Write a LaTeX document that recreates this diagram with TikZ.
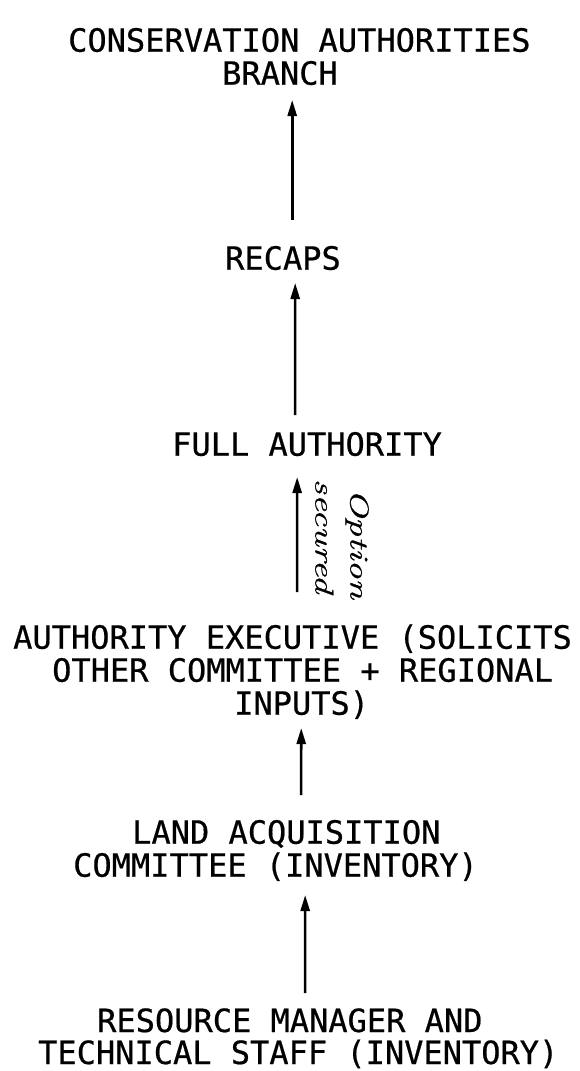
\documentclass[tikz,border=0pt]{standalone}
\usepackage{fontspec}
\usetikzlibrary{arrows.meta}
\newfontfamily\twfont{DejaVu Sans Mono}[FakeBold=0.6]
\newfontfamily\handfont{Latin Modern Roman}[FakeBold=0.8]
\tikzset{
  tw/.style={font=\twfont\fontsize{32}{34}\selectfont, inner sep=0pt, anchor=base west},
  hand/.style={font=\handfont\itshape\fontsize{26}{35}\selectfont, inner sep=0pt, align=left, rotate=-90},
  arr/.style={line width=2.6pt, -{Triangle[length=16pt,width=9pt]}}
}
\begin{document}
\begin{tikzpicture}[x=1pt,y=-1pt]
\useasboundingbox (0,0) rectangle (580,1071);
% texts
\node[tw] (cab1) at (68,51.7) {CONSERVATION AUTHORITIES};
\node[tw] (cab2) at (222,84.7) {BRANCH};
\node[tw] (recaps) at (225,269.7) {RECAPS};
\node[tw] (full) at (172,455.7) {FULL AUTHORITY};
\node[tw] (ae1) at (13,648.7) {AUTHORITY EXECUTIVE (SOLICITS};
\node[tw] (ae2) at (52,681.7) {OTHER COMMITTEE + REGIONAL};
\node[tw] (ae3) at (234,714.7) {INPUTS)};
\node[tw] (lac1) at (132,843.7) {LAND ACQUISITION};
\node[tw] (lac2) at (73,876.7) {COMMITTEE (INVENTORY)};
\node[tw] (rm1) at (97,1032) {RESOURCE MANAGER AND};
\node[tw] (rm2) at (38,1064) {TECHNICAL STAFF (INVENTORY)};
\node[hand] (opt) at (342,539) {\hspace*{10pt}\scalebox{1.45}[1]{Option}\\\scalebox{1.45}[1]{secured}};
% connectors
\draw[arr] ([shift={(9.2,-49.7)}]recaps.base) -- ([shift={(12.2,15.3)}]cab2.base);
\draw[arr] ([shift={(-11.9,-40.7)}]full.base) -- ([shift={(12.2,13.3)}]recaps.base);
\draw[arr] ([shift={(4.6,-56.7)}]ae1.base) -- ([shift={(-9.9,21.3)}]full.base);
\draw[arr] ([shift={(14.8,-48.7)}]lac1.base) -- ([shift={(-0.4,13.3)}]ae3.base);
\draw[arr] ([shift={(15.3,-39)}]rm1.base) -- ([shift={(29.7,18.3)}]lac2.base);
\end{tikzpicture}
\end{document}
